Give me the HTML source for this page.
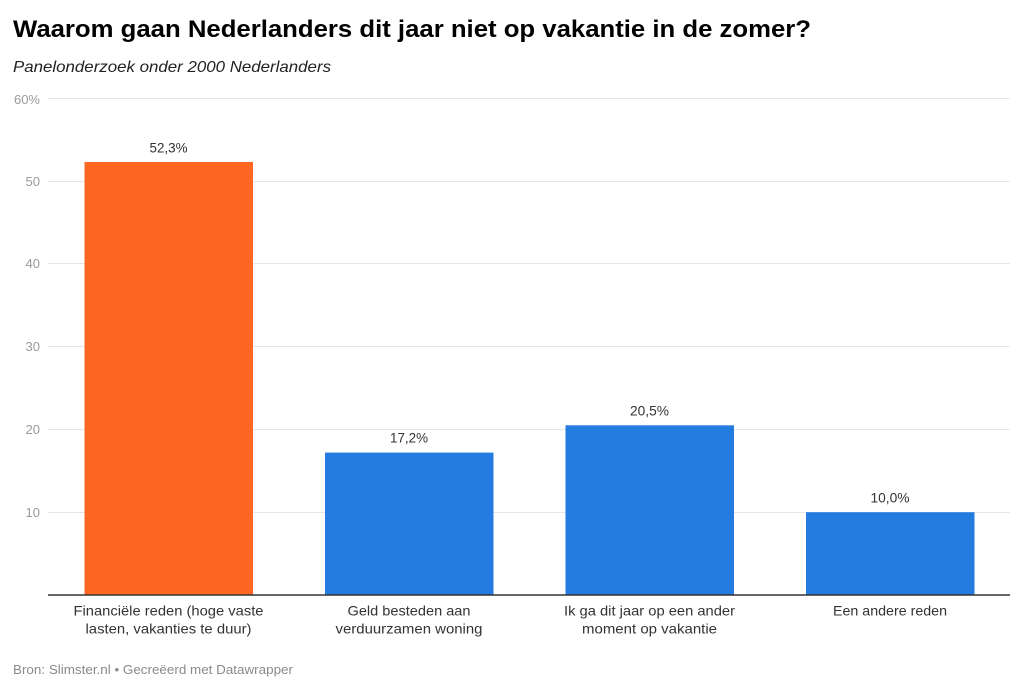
<!DOCTYPE html>
<html>
<head>
<meta charset="utf-8">
<style>
  html, body { margin:0; padding:0; background:#ffffff; }
  body { width:1023px; height:690px; overflow:hidden; }
  svg { display:block; font-family:"Liberation Sans", Arial, sans-serif; }
</style>
</head>
<body>
<svg width="1023" height="690" viewBox="0 0 1023 690" xmlns="http://www.w3.org/2000/svg">
  <rect width="1023" height="690" fill="#ffffff"/>

  <!-- Title & subtitle -->
  <text x="13" y="37" font-size="24" font-weight="bold" fill="#000000" textLength="798" lengthAdjust="spacingAndGlyphs">Waarom gaan Nederlanders dit jaar niet op vakantie in de zomer?</text>
  <text x="13" y="72" font-size="16" font-style="italic" fill="#222222" textLength="318" lengthAdjust="spacingAndGlyphs">Panelonderzoek onder 2000 Nederlanders</text>

  <!-- Gridlines -->
  <g stroke="#e6e6e6" stroke-width="1">
    <line x1="48" y1="98.5" x2="1010" y2="98.5"/>
    <line x1="48" y1="181.5" x2="1010" y2="181.5"/>
    <line x1="48" y1="263.5" x2="1010" y2="263.5"/>
    <line x1="48" y1="346.5" x2="1010" y2="346.5"/>
    <line x1="48" y1="429.5" x2="1010" y2="429.5"/>
    <line x1="48" y1="512.5" x2="1010" y2="512.5"/>
  </g>

  <!-- Y labels -->
  <g font-size="13" fill="#9a9a9a" text-anchor="end">
    <text x="40" y="104">60%</text>
    <text x="40" y="186">50</text>
    <text x="40" y="268">40</text>
    <text x="40" y="351">30</text>
    <text x="40" y="434">20</text>
    <text x="40" y="517">10</text>
  </g>

  <!-- Bars -->
  <rect x="84.5" y="162" width="168.5" height="433" fill="#fe6721"/>
  <rect x="325" y="452.6" width="168.5" height="142.4" fill="#247ce0"/>
  <rect x="565.5" y="425.3" width="168.5" height="169.7" fill="#247ce0"/>
  <rect x="806" y="512.2" width="168.5" height="82.8" fill="#247ce0"/>

  <!-- Baseline -->
  <line x1="48" y1="595" x2="1010" y2="595" stroke="#333333" stroke-width="1.5"/>

  <!-- Value labels -->
  <g font-size="14" fill="#333333" text-anchor="middle">
    <text x="168.5" y="152.3" textLength="38" lengthAdjust="spacingAndGlyphs">52,3%</text>
    <text x="409" y="442.7" textLength="38" lengthAdjust="spacingAndGlyphs">17,2%</text>
    <text x="649.5" y="415.7" textLength="39" lengthAdjust="spacingAndGlyphs">20,5%</text>
    <text x="890" y="502.3" textLength="39" lengthAdjust="spacingAndGlyphs">10,0%</text>
  </g>

  <!-- X labels -->
  <g font-size="14" fill="#333333" text-anchor="middle">
    <text x="168.5" y="615.5" textLength="190" lengthAdjust="spacingAndGlyphs">Financiële reden (hoge vaste</text>
    <text x="168.5" y="633.5" textLength="166" lengthAdjust="spacingAndGlyphs">lasten, vakanties te duur)</text>
    <text x="409" y="615.5" textLength="123" lengthAdjust="spacingAndGlyphs">Geld besteden aan</text>
    <text x="409" y="633.5" textLength="147" lengthAdjust="spacingAndGlyphs">verduurzamen woning</text>
    <text x="649.5" y="615.5" textLength="171" lengthAdjust="spacingAndGlyphs">Ik ga dit jaar op een ander</text>
    <text x="649.5" y="633.5" textLength="135" lengthAdjust="spacingAndGlyphs">moment op vakantie</text>
    <text x="890" y="615.5" textLength="114" lengthAdjust="spacingAndGlyphs">Een andere reden</text>
  </g>

  <!-- Footer -->
  <text x="13" y="674" font-size="13" fill="#8a8a8a" textLength="280" lengthAdjust="spacingAndGlyphs">Bron: Slimster.nl • Gecreëerd met Datawrapper</text>
</svg>
</body>
</html>
